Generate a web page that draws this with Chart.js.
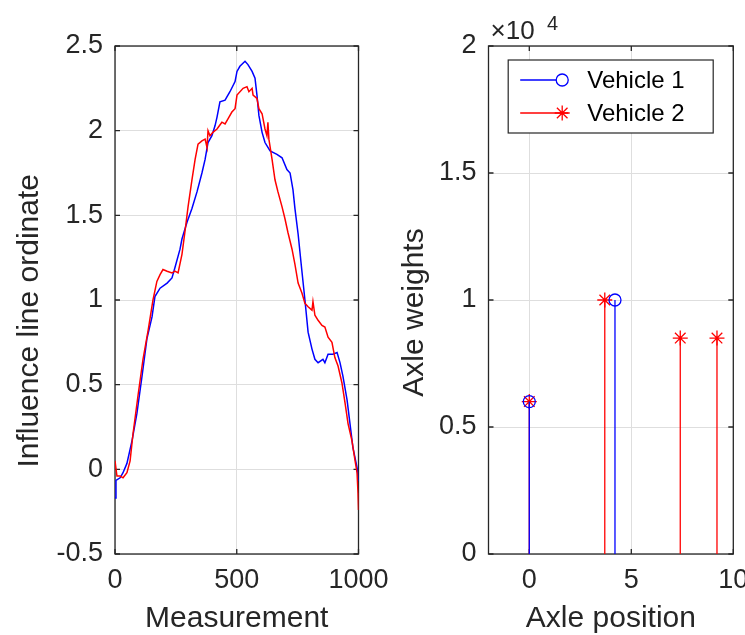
<!DOCTYPE html>
<html><head><meta charset="utf-8">
<script src="https://cdn.jsdelivr.net/npm/chart.js@4.4.0/dist/chart.umd.min.js"></script>
<style>
html,body{margin:0;padding:0;background:#fff;}
body{width:745px;height:635px;position:relative;overflow:hidden;}
#c1{position:absolute;left:0;top:0;width:400px;height:635px;}
#c2{position:absolute;left:395px;top:0;width:350px;height:635px;}
</style></head><body>
<canvas id="c1" width="400" height="635"></canvas>
<canvas id="c2" width="350" height="635"></canvas>
<script>
// ---------- Left panel data: influence line ordinates ----------
const measV1 = [0,4,21,33,49,70,90,111,131,152,164,185,214,234,246,267,275,296,316,337,357,370,382,398,411,419,431,452,472,493,501,513,534,546,563,575,583,591,604,616,637,665,686,706,719,731,739,752,764,780,793,809,821,834,854,862,875,895,912,924,936,953,965,977,994,1000];
const inflV1 = [-0.17,-0.065,-0.05,-0.02,0.035,0.17,0.33,0.55,0.77,0.90,1.02,1.07,1.10,1.13,1.19,1.30,1.36,1.46,1.54,1.64,1.75,1.83,1.93,1.97,2.03,2.08,2.17,2.18,2.23,2.29,2.35,2.38,2.41,2.39,2.35,2.31,2.21,2.09,1.99,1.93,1.88,1.86,1.84,1.77,1.75,1.65,1.54,1.39,1.22,1.0,0.81,0.71,0.65,0.63,0.65,0.63,0.68,0.68,0.69,0.63,0.55,0.41,0.27,0.13,0.01,-0.07];
const measV2 = [0,8,21,33,49,62,74,94,115,136,156,172,185,197,214,234,246,259,275,287,300,316,329,341,357,370,378,382,390,402,419,439,452,464,480,493,501,526,542,550,563,567,583,591,604,616,624,628,632,645,657,669,686,698,710,727,739,752,768,780,793,809,813,821,834,850,862,875,891,903,916,932,945,957,973,986,994,998,1000];
const inflV2 = [0.05,-0.04,-0.04,-0.05,-0.02,0.05,0.21,0.43,0.65,0.82,1.0,1.11,1.15,1.18,1.17,1.16,1.17,1.16,1.27,1.40,1.55,1.71,1.83,1.92,1.94,1.95,1.90,2.0,1.97,1.99,2.01,2.05,2.04,2.07,2.11,2.13,2.21,2.25,2.26,2.23,2.25,2.21,2.19,2.13,2.10,2.01,1.97,2.05,1.95,1.83,1.71,1.64,1.55,1.48,1.40,1.30,1.21,1.10,1.04,0.98,0.96,0.94,0.99,0.91,0.88,0.85,0.84,0.78,0.75,0.66,0.61,0.51,0.39,0.27,0.17,0.05,-0.02,-0.14,-0.24];
const leftXTicks = [0,500,1000];
const leftYTicks = [-0.5,0,0.5,1,1.5,2,2.5];

// ---------- Right panel data: axle positions and weights ----------
const seriesNames = ['Vehicle 1','Vehicle 2'];
const axlePosV1 = [0,4.2];
const axleWtV1 = [6000,10000];
const axlePosV2 = [0,3.7,7.4,9.2];
const axleWtV2 = [6000,10000,8500,8500];
const rightXTicks = [0,5,10];
const rightYTicks = [0,5000,10000,15000,20000];

const FONT = 'Liberation Sans, Arial, Helvetica, sans-serif';
const AXC = '#262626';
const GRIDC = '#dedede';
Chart.defaults.font.family = FONT;
Chart.defaults.color = AXC;

const pts = (xs, ys) => xs.map((x,i)=>({x:x, y:ys[i]}));
const stems = (xs, ys) => { const o=[]; xs.forEach((x,i)=>{o.push({x:x,y:0});o.push({x:x,y:ys[i]});o.push({x:x,y:null});}); return o; };
const plain = v => String(v);

const boxPlugin = {
  id:'matlabBox',
  beforeDatasetsDraw(chart){
    const {ctx, chartArea:a, scales} = chart;
    ctx.save();
    ctx.strokeStyle = AXC; ctx.lineWidth = 1.3;
    ctx.strokeRect(a.left, a.top, a.right-a.left, a.bottom-a.top);
    const tl = 5;
    ctx.beginPath();
    scales.x.ticks.forEach(t=>{ const px = scales.x.getPixelForValue(t.value);
      ctx.moveTo(px,a.bottom); ctx.lineTo(px,a.bottom-tl);
      ctx.moveTo(px,a.top); ctx.lineTo(px,a.top+tl); });
    scales.y.ticks.forEach(t=>{ const py = scales.y.getPixelForValue(t.value);
      ctx.moveTo(a.left,py); ctx.lineTo(a.left+tl,py);
      ctx.moveTo(a.right,py); ctx.lineTo(a.right-tl,py); });
    ctx.stroke();
    ctx.restore();
  }
};

function xScale(min,max,ticks,title){
  return {type:'linear', min:min, max:max,
    afterBuildTicks:s=>{s.ticks = ticks.map(v=>({value:v}));},
    afterFit:s=>{s.height=81; s.paddingLeft=0; s.paddingRight=0;},
    grid:{color:GRIDC, lineWidth:1, drawTicks:false},
    border:{display:false},
    ticks:{font:{size:27}, padding:10, color:AXC, maxRotation:0, autoSkip:false, callback:plain},
    title:{display:true, text:title, font:{size:30, lineHeight:1.1}, color:AXC, padding:{top:0,bottom:0}}
  };
}
function yScale(min,max,ticks,title,width,tpad,fmt){
  return {type:'linear', min:min, max:max,
    afterBuildTicks:s=>{s.ticks = ticks.map(v=>({value:v}));},
    afterFit:s=>{s.width=width; s.paddingTop=0; s.paddingBottom=0;},
    grid:{color:GRIDC, lineWidth:1, drawTicks:false},
    border:{display:false},
    ticks:{font:{size:27}, padding:12, color:AXC, autoSkip:false, callback:fmt || plain},
    title:{display:true, text:title, font:{size:30, lineHeight:1.1}, color:AXC, padding:{top:tpad,bottom:0}}
  };
}

new Chart(document.getElementById('c1'), {
  type:'scatter',
  data:{datasets:[
    {label:seriesNames[1], data:pts(measV2, inflV2), showLine:true, borderColor:'#ff0000', borderWidth:1.5, pointRadius:0, tension:0},
    {label:seriesNames[0], data:pts(measV1, inflV1), showLine:true, borderColor:'#0000ff', borderWidth:1.5, pointRadius:0, tension:0}
  ]},
  options:{
    responsive:false, animation:false, devicePixelRatio:1,
    layout:{padding:{left:0, top:46, right:41.5, bottom:0}},
    plugins:{legend:{display:false}, tooltip:{enabled:false}},
    scales:{
      x: xScale(0,1000,leftXTicks,'Measurement'),
      y: yScale(-0.5,2.5,leftYTicks,'Influence line ordinate\u00a0\u00a0\u00a0\u00a0\u00a0',115,13.5)
    }
  },
  plugins:[boxPlugin]
});

const legendPlugin = {
  id:'stemLegend',
  afterDraw(chart){
    const {ctx, chartArea:a} = chart;
    ctx.save();
    // exponent label
    ctx.fillStyle = AXC; ctx.textBaseline = 'alphabetic'; ctx.textAlign='left';
    ctx.font = '26px ' + FONT;
    ctx.fillText('\u00d710', a.left+2, 39);
    ctx.font = '20px ' + FONT;
    ctx.fillText('4', a.left+58.5, 30);
    // legend box
    const bx = a.left+19.7, by = a.top+14, bw = 205, bh = 73;
    ctx.fillStyle = '#fff';
    ctx.fillRect(bx,by,bw,bh);
    ctx.strokeStyle = AXC; ctx.lineWidth = 1.2;
    ctx.strokeRect(bx,by,bw,bh);
    const rows = [
      {name:chart.data.datasets[0].label, color:'#0000ff', style:'circle', r:6, y:by+20},
      {name:chart.data.datasets[2].label, color:'#ff0000', style:'star', r:7.5, y:by+53}
    ];
    rows.forEach(r=>{
      ctx.strokeStyle = r.color; ctx.lineWidth = 1.3;
      ctx.beginPath(); ctx.moveTo(bx+12, r.y); ctx.lineTo(bx+60, r.y); ctx.stroke();
      Chart.helpers.drawPoint(ctx, {pointStyle:r.style, radius:r.r, rotation:0, borderWidth:1.3}, bx+54, r.y);
      ctx.fillStyle = '#000'; ctx.font = '24px ' + FONT; ctx.textBaseline='middle';
      ctx.fillText(r.name, bx+79, r.y+1);
    });
    ctx.restore();
  }
};

new Chart(document.getElementById('c2'), {
  type:'scatter',
  data:{datasets:[
    {label:seriesNames[0], data:pts(axlePosV1, axleWtV1), pointStyle:'circle', pointRadius:6, borderColor:'#0000ff', backgroundColor:'rgba(0,0,0,0)', borderWidth:1.3, showLine:false},
    {label:seriesNames[0]+' stems', data:stems(axlePosV1, axleWtV1), showLine:true, spanGaps:false, borderColor:'#0000ff', borderWidth:1.3, pointRadius:0},
    {label:seriesNames[1], data:pts(axlePosV2, axleWtV2), pointStyle:'star', pointRadius:7.5, borderColor:'#ff0000', backgroundColor:'rgba(0,0,0,0)', borderWidth:1.3, showLine:false},
    {label:seriesNames[1]+' stems', data:stems(axlePosV2, axleWtV2), showLine:true, spanGaps:false, borderColor:'#ff0000', borderWidth:1.3, pointRadius:0}
  ]},
  options:{
    responsive:false, animation:false, devicePixelRatio:1,
    layout:{padding:{left:0, top:46, right:11.7, bottom:0}},
    plugins:{legend:{display:false}, tooltip:{enabled:false}},
    scales:{
      x: xScale(-2,10,rightXTicks,'Axle position'),
      y: yScale(0,20000,rightYTicks,'Axle weights\u00a0\u00a0\u00a0',93.5,3.5, v=>String(v/10000))
    }
  },
  plugins:[boxPlugin, legendPlugin]
});
</script>
</body></html>
